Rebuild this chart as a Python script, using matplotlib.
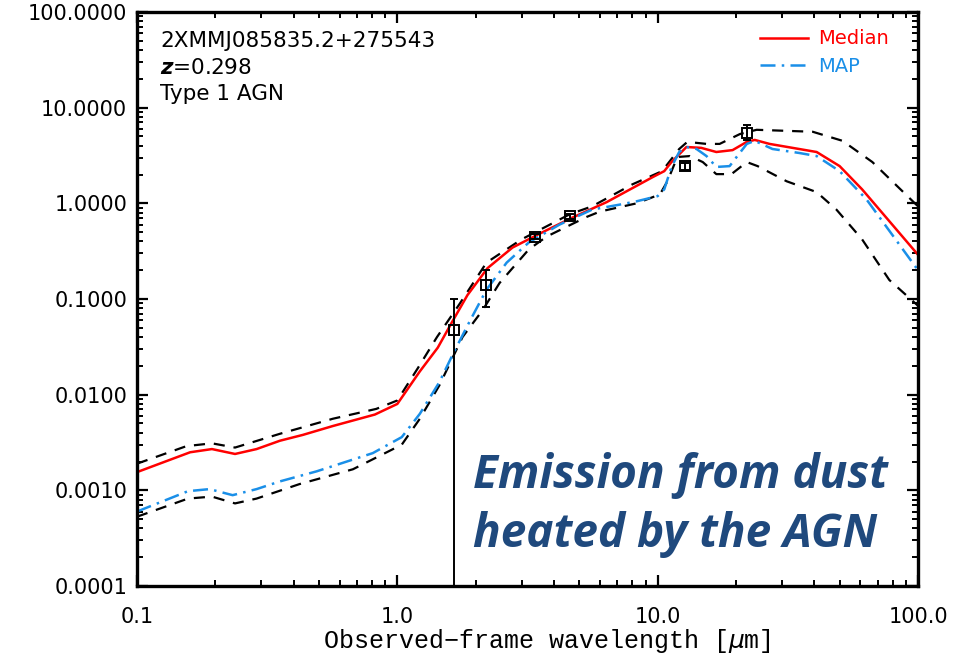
import matplotlib
matplotlib.use("Agg")
import matplotlib.pyplot as plt
from matplotlib.ticker import LogLocator, FormatStrFormatter, NullFormatter

# ---------------- data ----------------
med_x = [0.1, 0.16, 0.194, 0.238, 0.288, 0.354, 0.434, 0.565, 0.82, 1.0, 1.22, 1.43, 1.62, 1.86,
         2.22, 2.77, 3.43, 4.6, 6.37, 9.57, 10.6, 11.3, 12.9, 14.7, 16.8, 19.4, 22.0, 23.6, 26.9,
         40.8, 50.0, 61.0, 100.0]
med_y = [0.00155, 0.0025, 0.0027, 0.0024, 0.0027, 0.0033, 0.0038, 0.0047, 0.0062, 0.008, 0.0175,
         0.031, 0.057, 0.11, 0.21, 0.345, 0.465, 0.69, 1.03, 1.88, 2.17, 2.7, 3.88, 3.8, 3.44, 3.6,
         4.39, 4.6, 4.18, 3.44, 2.45, 1.4, 0.29]

map_x = [0.1, 0.157, 0.19, 0.233, 0.288, 0.354, 0.49, 0.805, 1.04, 1.22, 1.45, 1.64, 1.9, 2.2,
         2.63, 3.2, 4.2, 5.6, 7.15, 8.3, 10.0, 10.6, 11.3, 12.1, 12.9, 14.1, 15.4, 16.8, 18.9, 20.1,
         22.0, 23.6, 27.6, 35.0, 40.8, 50.0, 63.4, 100.0]
map_y = [0.0006, 0.00098, 0.00103, 0.00089, 0.00103, 0.00124, 0.00158, 0.00245, 0.0036, 0.0063,
         0.0135, 0.027, 0.059, 0.125, 0.24, 0.39, 0.6, 0.86, 0.97, 1.05, 1.19, 1.4, 2.4, 3.44, 3.88,
         3.7, 3.12, 2.4, 2.45, 3.05, 4.18, 4.5, 3.7, 3.36, 3.12, 2.17, 1.1, 0.2]

up_x = [0.1, 0.155, 0.194, 0.238, 0.354, 0.565, 0.83, 1.0, 1.2, 1.42, 1.74, 2.2, 3.0, 4.6, 5.6,
        8.0, 10.4, 12.1, 13.0, 15.4, 17.3, 20.7, 24.0, 39.4, 51.3, 66.8, 100.0]
up_y = [0.0019, 0.0029, 0.0031, 0.0028, 0.0039, 0.0056, 0.0071, 0.0087, 0.019, 0.04, 0.09, 0.24,
        0.42, 0.77, 0.93, 1.58, 2.17, 3.7, 4.39, 4.18, 4.18, 5.3, 5.87, 5.6, 4.5, 2.7, 0.93]

lo_x = [0.1, 0.157, 0.194, 0.238, 0.288, 0.42, 0.675, 0.857, 1.04, 1.22, 1.45, 1.78, 2.13, 2.47,
        3.2, 3.75, 5.33, 6.0, 8.3, 10.2, 10.9, 11.9, 13.3, 14.9, 16.8, 19.2, 22.0, 24.2, 31.3,
        40.8, 48.6, 61.0, 77.6, 100.0]
lo_y = [0.00053, 0.00082, 0.00086, 0.00073, 0.00082, 0.00116, 0.00166, 0.0023, 0.003, 0.0056,
        0.0125, 0.04, 0.077, 0.147, 0.33, 0.45, 0.72, 0.82, 1.0, 1.24, 1.7, 3.05, 3.12, 2.7, 2.02,
        2.02, 2.7, 2.45, 1.7, 1.31, 0.86, 0.42, 0.158, 0.085]

obs_x = [1.65, 2.2, 3.37, 4.6, 12.7, 22.1]
obs_y = [0.047, 0.14, 0.45, 0.73, 2.45, 5.46]
obs_err_hi = [0.053, 0.06, 0.03, 0.04, 0.2, 1.1]
obs_err_lo = [0.047 - 1e-12, 0.058, 0.03, 0.04, 0.2, 0.9]

ytick_vals = [0.0001, 0.001, 0.01, 0.1, 1.0, 10.0, 100.0]
xtick_vals = [0.1, 1.0, 10.0, 100.0]

source_name = "2XMMJ085835.2+275543"
redshift_label = r"$\boldsymbol{z}$=0.298"
type_label = "Type 1 AGN"
big_text = ["Emission from dust", "heated by the AGN"]

# ---------------- figure ----------------
W, H = 955, 659
fig = plt.figure(figsize=(W / 100, H / 100), dpi=100)
ax = fig.add_axes([137 / W, 1 - 586 / H, (918 - 137) / W, (586 - 12) / H])

red = "#FF0000"
blue = "#1A8FE8"

ax.plot(up_x, up_y, color="black", lw=1.6, ls=(0, (5, 4)))
ax.plot(lo_x, lo_y, color="black", lw=1.6, ls=(0, (5, 4)))
ax.plot(med_x, med_y, color=red, lw=1.8, label="Median")
ax.plot(map_x, map_y, color=blue, lw=1.8, ls=(0, (6, 2.5, 1, 2.5)), label="MAP")

ax.errorbar(obs_x, obs_y, yerr=[obs_err_lo, obs_err_hi], fmt="s", mfc="none", mec="black",
            ms=7.5, mew=1.4, ecolor="black", elinewidth=1.4, capsize=3, capthick=1.4,
            color="black", zorder=5)

ax.set_xscale("log")
ax.set_yscale("log")
ax.set_xlim(0.1, 100)
ax.set_ylim(0.0001, 100)

ax.xaxis.set_minor_locator(LogLocator(base=10, subs=range(2, 10), numticks=20))
ax.yaxis.set_minor_locator(LogLocator(base=10, subs=range(2, 10), numticks=20))
ax.set_xticks(xtick_vals)
ax.set_yticks(ytick_vals)
ax.xaxis.set_major_formatter(FormatStrFormatter("%.1f"))
ax.yaxis.set_major_formatter(FormatStrFormatter("%.4f"))
ax.xaxis.set_minor_formatter(NullFormatter())
ax.yaxis.set_minor_formatter(NullFormatter())

ax.tick_params(which="both", direction="in", top=True, right=True, colors="black")
ax.tick_params(which="major", length=8, width=1.6, labelsize=15)
ax.tick_params(which="minor", length=4.5, width=1.4)
ax.tick_params(axis="x", which="major", pad=15)
ax.tick_params(axis="y", which="major", pad=7)
for sp in ax.spines.values():
    sp.set_linewidth(2.4)

ax.set_xlabel("Observed\u2212frame wavelength [$\\mu$m]", family="Liberation Mono",
              fontsize=18, labelpad=0)
ax.xaxis.label.set_x((547 - 137) / (918 - 137))

# annotation block
for txt, yb in [(source_name, 47), (redshift_label, 74), (type_label, 100)]:
    ax.text(160 / W, 1 - yb / H, txt, transform=fig.transFigure, fontsize=15.5,
            ha="left", va="baseline")

leg = ax.legend(loc="upper right", bbox_to_anchor=(0.985, 1.0), frameon=False, fontsize=14,
                handlelength=2.5, handletextpad=0.5, labelspacing=0.45, labelcolor="linecolor")

for i, line in enumerate(big_text):
    fig.text(473 / W, 1 - (488 + i * 59) / H, line, family="Open Sans", weight="bold",
             style="italic", fontsize=33, color="#1F497D", ha="left", va="baseline")

fig.savefig("out.png", dpi=100)
